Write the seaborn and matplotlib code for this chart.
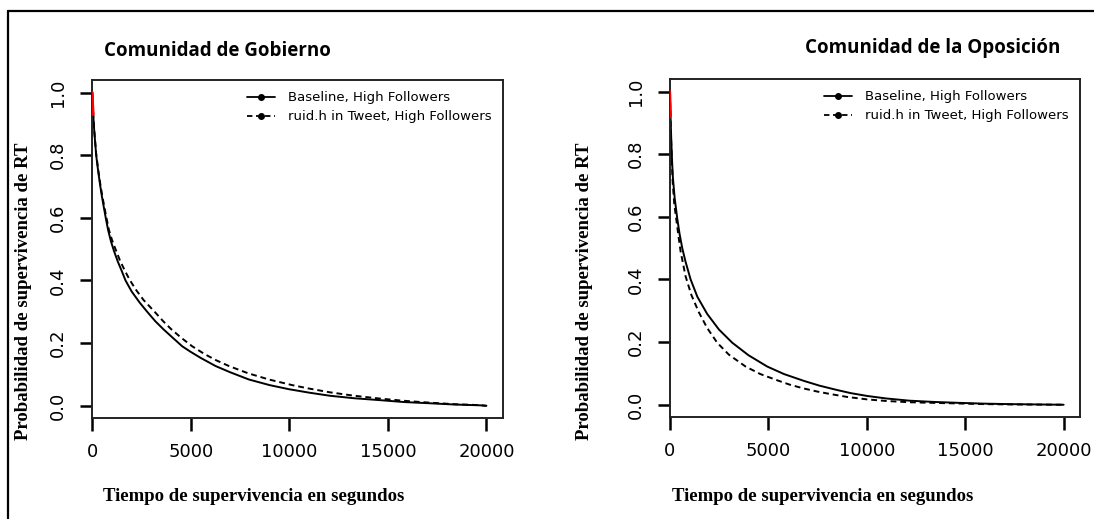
import pandas as pd
import matplotlib
matplotlib.use("Agg")
import matplotlib.pyplot as plt
from matplotlib.lines import Line2D
import seaborn as sns

# curve values (time in seconds, survival probability)
gob_base_t = [0, 25, 50, 100, 150, 200, 300, 400, 500, 600, 700, 810, 950, 1100, 1300, 1500, 1690, 2000,
              2400, 2790, 3200, 3600, 4000, 4565, 5000, 5500, 6255, 7000, 7946, 9000, 9975, 11000, 12060,
              13300, 14600, 15800, 17130, 18400, 19670, 20000]
gob_base_s = [1.0, 0.96, 0.93, 0.88, 0.84, 0.80, 0.75, 0.705, 0.665, 0.63, 0.595, 0.56, 0.525, 0.495, 0.46,
              0.43, 0.40, 0.365, 0.33, 0.30, 0.27, 0.245, 0.222, 0.19, 0.172, 0.153, 0.127, 0.107, 0.084,
              0.066, 0.053, 0.042, 0.032, 0.024, 0.018, 0.012, 0.008, 0.004, 0.0015, 0.0]
gob_ruid_t = [0, 25, 50, 100, 150, 200, 300, 400, 500, 600, 700, 845, 1000, 1150, 1400, 1650, 1893, 2200,
              2600, 3212, 3600, 4000, 4500, 5072, 5700, 6300, 6932, 7900, 8960, 10144, 11000, 12060,
              13300, 14600, 15800, 17130, 18400, 19670, 20000]
gob_ruid_s = [1.0, 0.96, 0.93, 0.882, 0.843, 0.805, 0.755, 0.712, 0.673, 0.64, 0.607, 0.562, 0.53, 0.505,
              0.465, 0.432, 0.403, 0.372, 0.338, 0.297, 0.27, 0.245, 0.218, 0.19, 0.165, 0.145, 0.127,
              0.104, 0.084, 0.066, 0.055, 0.043, 0.032, 0.023, 0.016, 0.010, 0.005, 0.002, 0.0]

opo_base_t = [0, 20, 40, 80, 120, 160, 250, 380, 500, 635, 800, 1060, 1400, 1900, 2500, 3175, 4000, 4950,
              5800, 6820, 7600, 8500, 9200, 10030, 11000, 12170, 13400, 14700, 16000, 17250, 18600, 20000]
opo_base_s = [1.0, 0.96, 0.92, 0.84, 0.775, 0.725, 0.66, 0.595, 0.545, 0.50, 0.457, 0.40, 0.345, 0.29, 0.24,
              0.198, 0.158, 0.122, 0.098, 0.076, 0.061, 0.047, 0.037, 0.028, 0.020, 0.013, 0.009, 0.006,
              0.0035, 0.002, 0.001, 0.0]
opo_ruid_t = [0, 20, 40, 80, 120, 150, 230, 347, 450, 550, 804, 1100, 1480, 1900, 2410, 3000, 3850, 4600,
              5460, 6100, 6800, 7500, 8170, 9000, 10030, 11000, 12170, 13400, 14700, 16000, 17250, 18600, 20000]
opo_ruid_s = [1.0, 0.955, 0.91, 0.825, 0.755, 0.71, 0.64, 0.585, 0.535, 0.49, 0.41, 0.35, 0.295, 0.245,
              0.198, 0.16, 0.122, 0.098, 0.078, 0.064, 0.052, 0.042, 0.034, 0.025, 0.017, 0.012, 0.008,
              0.006, 0.004, 0.002, 0.001, 0.0005, 0.0]

series_names = ["Baseline, High Followers", "ruid.h in Tweet, High Followers"]
titles = ["Comunidad de Gobierno", "Comunidad de la Oposición"]
x_ticks = [0, 5000, 10000, 15000, 20000]
y_ticks = [0.0, 0.2, 0.4, 0.6, 0.8, 1.0]
xlabel = "Tiempo de supervivencia en segundos"
ylabel = "Probabilidad de supervivencia de RT"

sns.set_style("ticks")
plt.rcParams["font.family"] = ["DejaVu Sans"]
plt.rcParams["xtick.bottom"] = True
plt.rcParams["ytick.left"] = True
plt.rcParams["text.color"] = "black"

fig = plt.figure(figsize=(10.94, 5.19), dpi=100)

panels = [
    (gob_base_t, gob_base_s, gob_ruid_t, gob_ruid_s),
    (opo_base_t, opo_base_s, opo_ruid_t, opo_ruid_s),
]
boxes = [[0.0843, 0.194, 0.3751, 0.6518], [0.6122, 0.196, 0.3748, 0.6518]]
title_pos = [(0.1988, 0.902), (0.8524, 0.907)]
ylab_x = [0.0212, 0.5345]
xlab_x = [0.2317, 0.7517]

for i, (bt, bs, rt, rs) in enumerate(panels):
    ax = fig.add_axes(boxes[i])
    df = pd.concat([
        pd.DataFrame({"t": bt, "S": bs, "curva": series_names[0]}),
        pd.DataFrame({"t": rt, "S": rs, "curva": series_names[1]}),
    ])
    sns.lineplot(data=df, x="t", y="S", style="curva",
                 dashes={series_names[0]: "", series_names[1]: (3, 2)},
                 color="black", lw=1.4, estimator=None, sort=False,
                 legend=False, ax=ax)
    # red start of the curve
    sns.lineplot(x=bt[:3], y=bs[:3], color="red", lw=2.0, estimator=None,
                 sort=False, legend=False, ax=ax, zorder=3)

    ax.set_xlim(0, 20820)
    ax.set_ylim(-0.04, 1.04)
    ax.set_xticks(x_ticks)
    ax.set_xticklabels([str(v) for v in x_ticks])
    ax.set_yticks(y_ticks)
    ax.set_yticklabels([f"{v:.1f}" for v in y_ticks])
    ax.set_xlabel("")
    ax.set_ylabel("")
    ax.xaxis.set_ticks_position("bottom")
    ax.yaxis.set_ticks_position("left")
    ax.tick_params(which="major", direction="out", length=9, width=1.8,
                   color="black", labelcolor="black", labelsize=13, pad=9)
    ax.tick_params(axis="y", labelrotation=90)
    for lbl in ax.get_yticklabels():
        lbl.set_va("center")
    for sp in ax.spines.values():
        sp.set_linewidth(1.4)
        sp.set_color("#222222")

    handles = [
        Line2D([], [], color="black", lw=1.3, marker="o", markersize=4),
        Line2D([], [], color="black", lw=1.3, ls=(0, (3, 2)), marker="o", markersize=4),
    ]
    ax.legend(handles, series_names, loc="upper right", frameon=False,
              fontsize=9.5, handlelength=2.1, handletextpad=1.0,
              labelspacing=0.45, borderaxespad=0.45, numpoints=1,
              labelcolor="black")

    fig.text(title_pos[i][0], title_pos[i][1], titles[i], ha="center", va="center",
             fontsize=13.5, fontweight="bold", color="black",
             family=["Open Sans", "DejaVu Sans"])
    fig.text(ylab_x[i], 0.4393, ylabel, rotation=90, ha="center", va="center",
             fontsize=13.5, fontweight="bold", color="black", family=["Liberation Serif"])
    fig.text(xlab_x[i], 0.043, xlabel, ha="center", va="center",
             fontsize=13.5, fontweight="bold", color="black", family=["Liberation Serif"])

# outer frame (left and top edges)
fx, fy = 8 / 1094, 1 - 11 / 519
fig.add_artist(Line2D([fx, fx], [0, fy], color="black", lw=1.6))
fig.add_artist(Line2D([fx, 1], [fy, fy], color="black", lw=1.6))

fig.savefig("out.png", dpi=100)
